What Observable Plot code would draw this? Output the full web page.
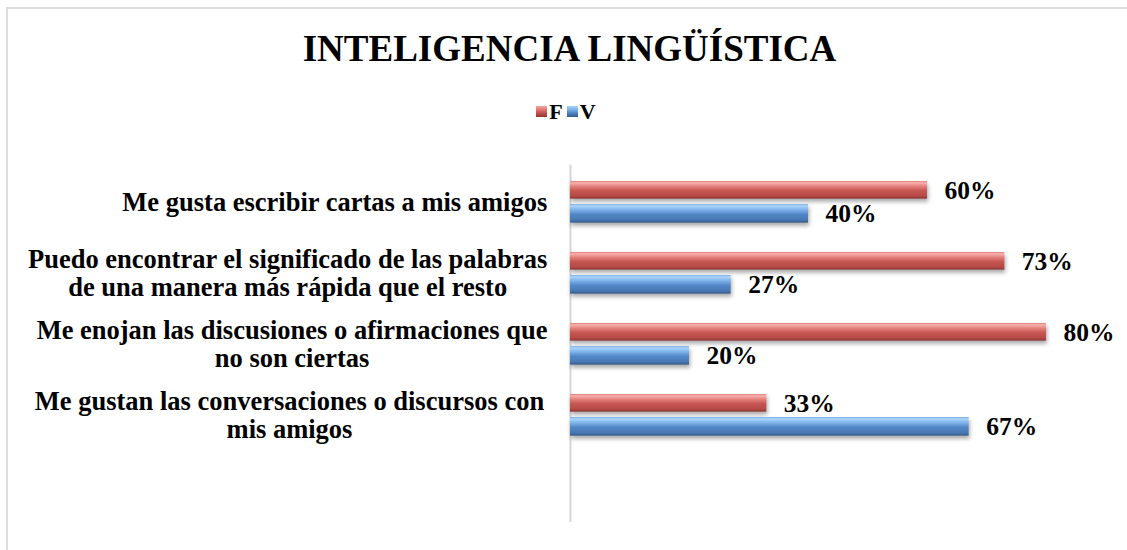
<!DOCTYPE html>
<html>
<head>
<meta charset="utf-8">
<script src="https://cdn.jsdelivr.net/npm/d3@7"></script>
<script src="https://cdn.jsdelivr.net/npm/@observablehq/plot@0.6"></script>
<style>
html, body { margin: 0; padding: 0; background: #fff; }
#wrap { position: relative; width: 1127px; height: 550px; overflow: hidden;
  font-family: "Liberation Serif", "Times New Roman", serif; color: #000; }
#frame { position: absolute; left: 6px; top: 7px; width: 1300px; height: 700px;
  border-left: 2px solid #dcdcdc; border-top: 2px solid #dcdcdc; }
#title { position: absolute; left: 0; top: 30px; width: 1139px; text-align: center;
  font-size: 37px; line-height: 37px; font-weight: bold; margin: 0; }
#legend { position: absolute; left: 0; top: 100.5px; width: 1132px; display: flex;
  justify-content: center; align-items: center; font-size: 22px; line-height: 22px; font-weight: bold; }
#legend .item { display: flex; align-items: center; }
#legend .item + .item { margin-left: 4px; }
#legend .sw { width: 11px; height: 11px; margin-right: 2px; }
#plot { position: absolute; left: 0; top: 130px; }
</style>
</head>
<body>
<div id="wrap">
  <div id="frame"></div>
  <div id="title"></div>
  <div id="legend"></div>
  <div id="plot"></div>
</div>
<script>
// ---- data ----
const title = "INTELIGENCIA LINGÜÍSTICA";
const categories = [
  "Me gusta escribir cartas a mis amigos",
  "Puedo encontrar el significado de las palabras\nde una manera más rápida que el resto",
  "Me enojan las discusiones o afirmaciones que\nno son ciertas",
  "Me gustan las conversaciones o discursos con\nmis amigos"
];
const seriesNames = ["F", "V"];
const valuesF = [60, 73, 80, 33];
const valuesV = [40, 27, 20, 67];

// ---- build ----
document.getElementById("title").textContent = title;

const legend = document.getElementById("legend");
const cssGrad = {
  F: "linear-gradient(#f4a7a4 0%, #e0736f 35%, #c0504d 65%, #8f3633 100%)",
  V: "linear-gradient(#a9d3fb 0%, #78aee8 35%, #4f81bd 65%, #345b8c 100%)"
};
seriesNames.forEach(s => {
  const it = document.createElement("div"); it.className = "item";
  const sw = document.createElement("div"); sw.className = "sw"; sw.style.background = cssGrad[s];
  const tx = document.createElement("span"); tx.textContent = s;
  it.appendChild(sw); it.appendChild(tx); legend.appendChild(it);
});

const rows = [];
categories.forEach((c, i) => {
  rows.push({category: c, series: "F", value: valuesF[i]});
  rows.push({category: c, series: "V", value: valuesV[i]});
});
const rowsF = rows.filter(d => d.series === "F");
const rowsV = rows.filter(d => d.series === "V");

const fontFamily = '"Liberation Serif", "Times New Roman", serif';
const labelSize = 26.5;
const ctx = document.createElement("canvas").getContext("2d");
ctx.font = `bold ${labelSize}px "Liberation Serif"`;
const labelMarks = categories.map(c => {
  const w = Math.max(...c.split("\n").map(l => ctx.measureText(l + (l.endsWith("con") ? " " : "")).width));
  return Plot.text([c], {
    x: () => 0, y: d => d, text: d => d,
    textAnchor: "middle", dx: -(23 + w / 2),
    fontSize: labelSize, fontWeight: "bold", lineHeight: 1.06, fill: "#000"
  });
});

const chart = Plot.plot({
  width: 1127, height: 420,
  marginTop: 35, marginBottom: 28, marginLeft: 570, marginRight: 0,
  style: {fontFamily, background: "transparent", color: "#000"},
  x: {domain: [0, 100], range: [570, 1165], axis: null},
  y: {type: "band", domain: [...categories, ""], padding: 0, axis: null},
  marks: [
    Plot.ruleX([0], {stroke: "#d6d6d6", strokeWidth: 2}),
    Plot.barX(rowsF, {x: "value", y: "category", fill: "url(#gradF)", insetTop: 15, insetBottom: 38.4}),
    Plot.barX(rowsV, {x: "value", y: "category", fill: "url(#gradV)", insetTop: 38, insetBottom: 14.4}),
    Plot.text(rowsF, {x: "value", y: "category", text: d => d.value + "%", dx: 17, dy: -11.5,
      textAnchor: "start", fontSize: 25.5, fontWeight: "bold", fill: "#000"}),
    Plot.text(rowsV, {x: "value", y: "category", text: d => d.value + "%", dx: 17, dy: 12,
      textAnchor: "start", fontSize: 25.5, fontWeight: "bold", fill: "#000"}),
    ...labelMarks
  ]
});

const svg = d3.select(chart);
const defs = svg.insert("defs", ":first-child");
const gradStops = {
  gradF: [[0, "#e07a77"], [0.1, "#f7b2af"], [0.3, "#e5807c"], [0.55, "#c65652"], [0.85, "#b54a47"], [1, "#8a3431"]],
  gradV: [[0, "#78ade6"], [0.1, "#acd5fc"], [0.3, "#80b4ec"], [0.55, "#5288c8"], [0.85, "#4878b3"], [1, "#335a8a"]]
};
Object.entries(gradStops).forEach(([id, stops]) => {
  const g = defs.append("linearGradient").attr("id", id).attr("x1", 0).attr("y1", 0).attr("x2", 0).attr("y2", 1);
  stops.forEach(([o, c]) => g.append("stop").attr("offset", o).attr("stop-color", c));
});
svg.selectAll("g[aria-label='bar']").style("filter", "drop-shadow(1px 3px 2px rgba(0,0,0,0.35))");

document.getElementById("plot").appendChild(chart);
</script>
</body>
</html>
